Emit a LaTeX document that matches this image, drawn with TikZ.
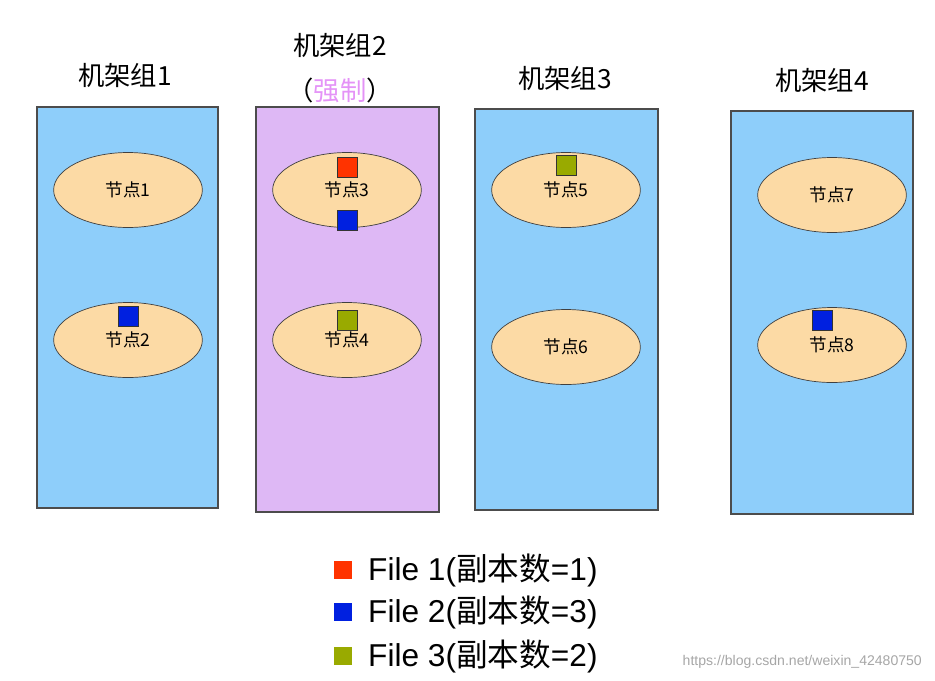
\documentclass[tikz,border=0pt]{standalone}
\usepackage{fontspec}
\setmainfont{Liberation Serif}
\newfontfamily\cjk{Noto Sans CJK SC}
\newfontfamily\legendfont{Liberation Sans}
\usetikzlibrary{shapes.geometric}
\definecolor{rackblue}{RGB}{142,206,250}
\definecolor{rackpurple}{RGB}{222,184,245}
\definecolor{nodefill}{RGB}{252,218,165}
\definecolor{fileone}{RGB}{255,51,0}
\definecolor{filetwo}{RGB}{0,32,224}
\definecolor{filethree}{RGB}{153,170,0}
\tikzset{
    rack/.style = {draw = black!70, fill = rackblue, line width = .6pt},
    server/.style = {ellipse, draw = black!75, fill = nodefill, minimum width = 4.25cm*0.7, minimum height = 1.5cm, font = \cjk\fontsize{10}{12}\selectfont, inner sep = 0pt},
    title/.style = {font = \cjk\fontsize{15}{18}\selectfont},
    block/.style = {draw = black!80, minimum size = 0.4cm, inner sep = 0pt}
}
\begin{document}
\begin{tikzpicture}[
        x = 0.02cm,
        y = -0.02cm
    ]
    \useasboundingbox (0,0) rectangle (935,680);
    % rack groups
    \draw[rack] (37,107) rectangle (218,508);
    \draw[rack, fill = rackpurple] (256,107) rectangle (439,512);
    \draw[rack] (475,109) rectangle (658,510);
    \draw[rack] (731,111) rectangle (913,514);
    \node[title] (t1) at (125,75) {机架组1};
    \node[title] (t2) at (340,45) {机架组2};
    \node[title] (t2b) at (340,90) {（\textcolor{rackpurple!80!magenta}{强制}）};
    \node[title] (t3) at (565,78) {机架组3};
    \node[title] (t4) at (822,80) {机架组4};
    % nodes
    \node[server] (n1) at (128,190) {节点1};
    \node[server] (n2) at (128,340) {节点2};
    \node[server] (n3) at (347,190) {节点3};
    \node[server] (n4) at (347,340) {节点4};
    \node[server] (n5) at (566,190) {节点5};
    \node[server] (n6) at (566,347) {节点6};
    \node[server] (n7) at (832,195) {节点7};
    \node[server] (n8) at (832,345) {节点8};
    % file blocks
    \node[block, fill = fileone] (b1) at (347,167) {};
    \node[block, fill = filetwo] (b2) at (347,220) {};
    \node[block, fill = filetwo] (b3) at (128,316) {};
    \node[block, fill = filethree] (b4) at (347,320) {};
    \node[block, fill = filethree] (b5) at (566,165) {};
    \node[block, fill = filetwo] (b6) at (822,320) {};
    % legend
    \foreach \c/\n/\k/\y in {fileone/1/1/570, filetwo/2/3/612, filethree/3/2/656} {
        \node[minimum size = 0.36cm, inner sep = 0pt, fill = \c] (l\n) at (343,\y) {};
        \node[anchor = west, font = \legendfont\fontsize{18}{21}\selectfont] at (362,\y) {File \n(\cjk 副本数\legendfont=\k)};
    }
    \node[anchor = east, text = black!35, font = \legendfont\fontsize{8}{10}\selectfont] (wm) at (928,662) {https://blog.csdn.net/weixin\_42480750};
\end{tikzpicture}
\end{document}
